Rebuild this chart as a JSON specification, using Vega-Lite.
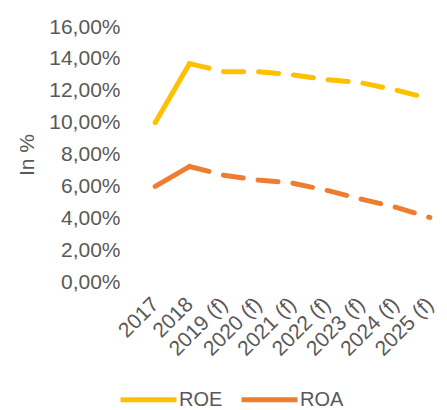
{
  "$schema": "https://vega.github.io/schema/vega-lite/v6.json",
  "autosize": "none",
  "width": 309,
  "height": 255,
  "padding": {"left": 138, "top": 27, "right": 0, "bottom": 128},
  "background": "white",
  "data": {
    "values": [
      {"year": "2017", "metric": "ROE", "value": 0.100, "phase": "actual"},
      {"year": "2018", "metric": "ROE", "value": 0.137, "phase": "actual"},
      {"year": "2018", "metric": "ROE", "value": 0.137, "phase": "forecast"},
      {"year": "2019 (f)", "metric": "ROE", "value": 0.132, "phase": "forecast"},
      {"year": "2020 (f)", "metric": "ROE", "value": 0.132, "phase": "forecast"},
      {"year": "2021 (f)", "metric": "ROE", "value": 0.130, "phase": "forecast"},
      {"year": "2022 (f)", "metric": "ROE", "value": 0.127, "phase": "forecast"},
      {"year": "2023 (f)", "metric": "ROE", "value": 0.125, "phase": "forecast"},
      {"year": "2024 (f)", "metric": "ROE", "value": 0.1205, "phase": "forecast"},
      {"year": "2025 (f)", "metric": "ROE", "value": 0.115, "phase": "forecast"},
      {"year": "2017", "metric": "ROA", "value": 0.060, "phase": "actual"},
      {"year": "2018", "metric": "ROA", "value": 0.0725, "phase": "actual"},
      {"year": "2018", "metric": "ROA", "value": 0.0725, "phase": "forecast"},
      {"year": "2019 (f)", "metric": "ROA", "value": 0.067, "phase": "forecast"},
      {"year": "2020 (f)", "metric": "ROA", "value": 0.064, "phase": "forecast"},
      {"year": "2021 (f)", "metric": "ROA", "value": 0.062, "phase": "forecast"},
      {"year": "2022 (f)", "metric": "ROA", "value": 0.0575, "phase": "forecast"},
      {"year": "2023 (f)", "metric": "ROA", "value": 0.052, "phase": "forecast"},
      {"year": "2024 (f)", "metric": "ROA", "value": 0.047, "phase": "forecast"},
      {"year": "2025 (f)", "metric": "ROA", "value": 0.0405, "phase": "forecast"}
    ]
  },
  "mark": {"type": "line", "strokeWidth": 5, "strokeCap": "round", "strokeJoin": "round"},
  "encoding": {
    "x": {
      "field": "year",
      "type": "nominal",
      "sort": ["2017", "2018", "2019 (f)", "2020 (f)", "2021 (f)", "2022 (f)", "2023 (f)", "2024 (f)", "2025 (f)"],
      "scale": {"type": "point", "padding": 0.5},
      "axis": {
        "title": null,
        "domain": false,
        "ticks": false,
        "grid": false,
        "labelAngle": -45,
        "labelAlign": "right",
        "labelBaseline": "middle",
        "labelPadding": 19,
        "labelFont": "Liberation Sans",
        "labelFontSize": 21,
        "labelColor": "#595959"
      }
    },
    "y": {
      "field": "value",
      "type": "quantitative",
      "scale": {"domain": [0, 0.16], "nice": false, "zero": true},
      "axis": {
        "title": "In %",
        "titleFont": "Liberation Sans",
        "titleFontSize": 21,
        "titleFontWeight": "normal",
        "titleColor": "#595959",
        "titlePadding": 11,
        "values": [0, 0.02, 0.04, 0.06, 0.08, 0.1, 0.12, 0.14, 0.16],
        "labelExpr": "replace(format(datum.value, '.2%'), '.', ',')",
        "domain": false,
        "ticks": false,
        "grid": false,
        "labelPadding": 18,
        "labelFont": "Liberation Sans",
        "labelFontSize": 21,
        "labelColor": "#595959"
      }
    },
    "color": {
      "field": "metric",
      "type": "nominal",
      "scale": {"domain": ["ROE", "ROA"], "range": ["#FFC000", "#ED7D31"]},
      "legend": {
        "title": null,
        "orient": "none",
        "legendX": -20,
        "legendY": 342,
        "direction": "horizontal",
        "symbolType": "stroke",
        "symbolSize": 3136,
        "symbolStrokeWidth": 5,
        "labelFont": "Liberation Sans",
        "labelFontSize": 20,
        "labelColor": "#595959",
        "labelOffset": 0,
        "columnPadding": 8
      }
    },
    "strokeDash": {
      "field": "phase",
      "type": "nominal",
      "scale": {"domain": ["actual", "forecast"], "range": [[1, 0], [20, 15]]},
      "legend": null
    }
  },
  "config": {"view": {"stroke": null}}
}
